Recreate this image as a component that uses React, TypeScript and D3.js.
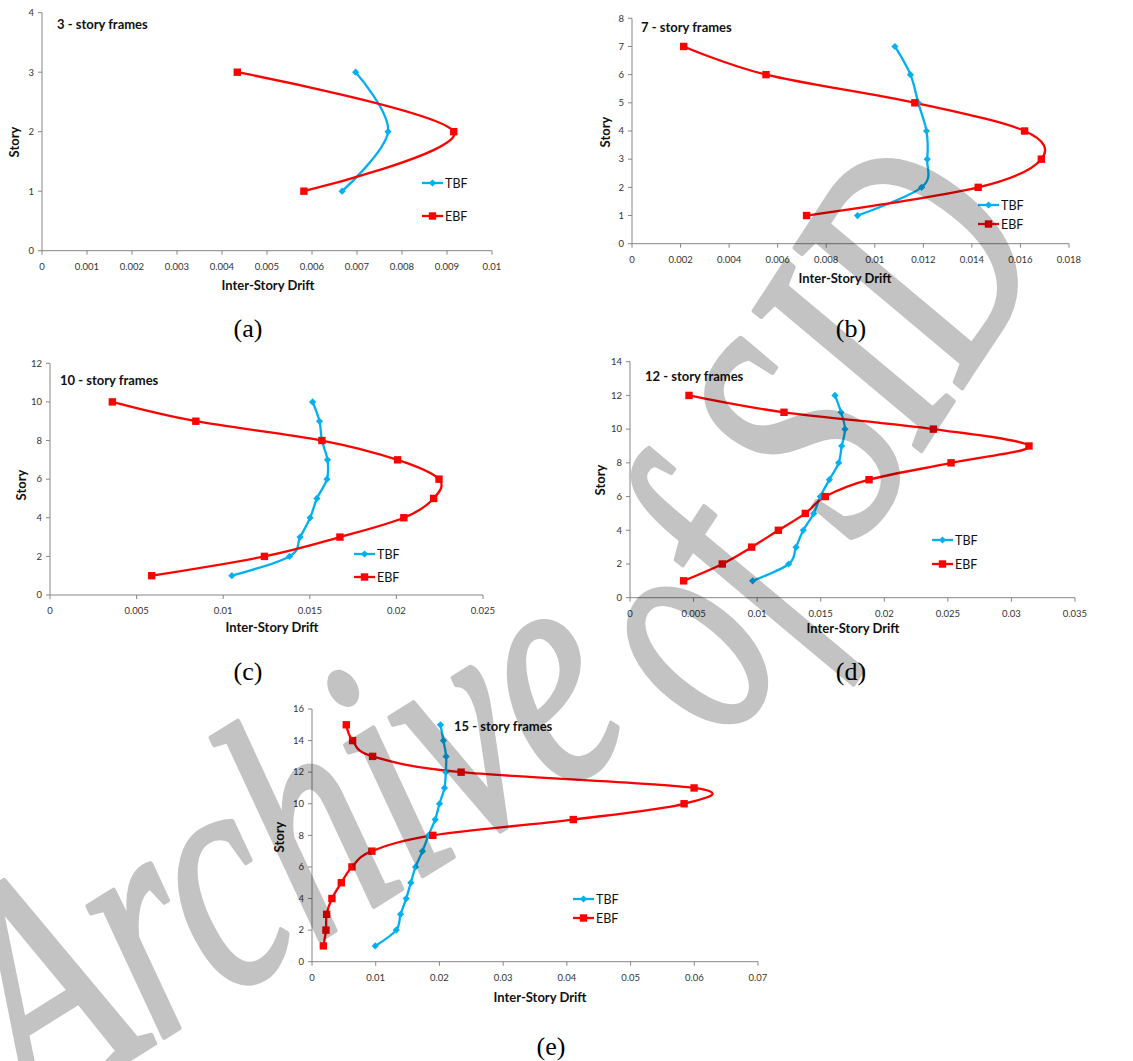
import React from "react";
import * as d3 from "d3";

// ---------- Data ----------
// (a) 3-story frames
const stories3 = [1, 2, 3];
const tbf3 = [0.00667, 0.00769, 0.00697];
const ebf3 = [0.00582, 0.00915, 0.00434];
const xTicks3 = [0, 0.001, 0.002, 0.003, 0.004, 0.005, 0.006, 0.007, 0.008, 0.009, 0.01];
const yTicks3 = [0, 1, 2, 3, 4];

// (b) 7-story frames
const stories7 = [1, 2, 3, 4, 5, 6, 7];
const tbf7 = [0.00929, 0.01193, 0.01216, 0.01213, 0.01179, 0.01147, 0.01083];
const ebf7 = [0.00719, 0.01426, 0.01686, 0.01617, 0.01165, 0.00552, 0.00213];
const xTicks7 = [0, 0.002, 0.004, 0.006, 0.008, 0.01, 0.012, 0.014, 0.016, 0.018];
const yTicks7 = [0, 1, 2, 3, 4, 5, 6, 7, 8];

// (c) 10-story frames
const stories10 = [1, 2, 3, 4, 5, 6, 7, 8, 9, 10];
const tbf10 = [0.0105, 0.01383, 0.01444, 0.01502, 0.01541, 0.01599, 0.01602, 0.0157, 0.01556, 0.01516];
const ebf10 = [0.00587, 0.01238, 0.01674, 0.02043, 0.02215, 0.02246, 0.02007, 0.0157, 0.00842, 0.0036];
const xTicks10 = [0, 0.005, 0.01, 0.015, 0.02, 0.025];
const yTicks10 = [0, 2, 4, 6, 8, 10, 12];

// (d) 12-story frames
const stories12 = [1, 2, 3, 4, 5, 6, 7, 8, 9, 10, 11, 12];
const tbf12 = [0.00965, 0.01248, 0.01306, 0.01363, 0.01445, 0.01497, 0.01568, 0.01641, 0.01665, 0.01691, 0.0166, 0.01612];
const ebf12 = [0.00422, 0.00726, 0.00957, 0.01167, 0.01379, 0.01536, 0.0188, 0.02525, 0.03138, 0.02386, 0.01211, 0.00464];
const xTicks12 = [0, 0.005, 0.01, 0.015, 0.02, 0.025, 0.03, 0.035];
const yTicks12 = [0, 2, 4, 6, 8, 10, 12, 14];

// (e) 15-story frames
const stories15 = [1, 2, 3, 4, 5, 6, 7, 8, 9, 10, 11, 12, 13, 14, 15];
const tbf15 = [0.00993, 0.01322, 0.0139, 0.01478, 0.01551, 0.01625, 0.01734, 0.01828, 0.01933, 0.02001, 0.02079, 0.021, 0.02105, 0.02063, 0.02016];
const ebf15 = [0.00178, 0.00219, 0.0023, 0.00313, 0.0046, 0.00627, 0.0094, 0.01896, 0.04101, 0.0584, 0.05997, 0.0234, 0.00951, 0.00637, 0.00538];
const xTicks15 = [0, 0.01, 0.02, 0.03, 0.04, 0.05, 0.06, 0.07];
const yTicks15 = [0, 2, 4, 6, 8, 10, 12, 14, 16];

const seriesNames = ["TBF", "EBF"];
const xAxisTitle = "Inter-Story Drift";
const yAxisTitle = "Story";
const watermarkWords = ["Archive", "of SID"];

// ---------- Layout ----------
const TBF_COLOR = "#00b0f0";
const EBF_COLOR = "#ff0000";
const AXIS_COLOR = "#868686";
const FONT = "Lato, 'Open Sans', sans-serif";

type PanelCfg = {
  title: string;
  caption: string;
  stories: number[];
  tbf: number[];
  ebf: number[];
  xTicks: number[];
  yTicks: number[];
  l: number; r: number; t: number; b: number;
  titleX: number; titleY: number;
  legX: number; legY1: number; legY2: number;
  xLabX: number; xLabY: number;
  yLabX: number; yLabY: number;
  capX: number; capY: number;
};

const panels: PanelCfg[] = [
  {
    title: "3 - story frames", caption: "(a)", stories: stories3, tbf: tbf3, ebf: ebf3,
    xTicks: xTicks3, yTicks: yTicks3, l: 42, r: 492, t: 12.7, b: 250.7,
    titleX: 57, titleY: 29, legX: 422, legY1: 183, legY2: 216,
    xLabX: 268, xLabY: 290, yLabX: 19, yLabY: 142, capX: 248, capY: 337,
  },
  {
    title: "7 - story frames", caption: "(b)", stories: stories7, tbf: tbf7, ebf: ebf7,
    xTicks: xTicks7, yTicks: yTicks7, l: 632, r: 1069, t: 18.3, b: 243.7,
    titleX: 641, titleY: 32, legX: 978, legY1: 205, legY2: 224,
    xLabX: 845, xLabY: 283, yLabX: 610, yLabY: 132, capX: 851, capY: 337,
  },
  {
    title: "10 - story frames", caption: "(c)", stories: stories10, tbf: tbf10, ebf: ebf10,
    xTicks: xTicks10, yTicks: yTicks10, l: 50, r: 483, t: 363.3, b: 595,
    titleX: 60, titleY: 385, legX: 354, legY1: 554, legY2: 577,
    xLabX: 272, xLabY: 632, yLabX: 26, yLabY: 485, capX: 248, capY: 680,
  },
  {
    title: "12 - story frames", caption: "(d)", stories: stories12, tbf: tbf12, ebf: ebf12,
    xTicks: xTicks12, yTicks: yTicks12, l: 630, r: 1075, t: 361.7, b: 597.7,
    titleX: 645, titleY: 381, legX: 932, legY1: 540, legY2: 564,
    xLabX: 853, xLabY: 633, yLabX: 605, yLabY: 480, capX: 851, capY: 680,
  },
  {
    title: "15 - story frames", caption: "(e)", stories: stories15, tbf: tbf15, ebf: ebf15,
    xTicks: xTicks15, yTicks: yTicks15, l: 312, r: 758, t: 709, b: 961.7,
    titleX: 454, titleY: 731, legX: 573, legY1: 899, legY2: 918,
    xLabX: 540, xLabY: 1002, yLabX: 284, yLabY: 837, capX: 551, capY: 1055,
  },
];

const fmt = (v: number) => String(+v.toFixed(6));

const diamond = (cx: number, cy: number, s: number) =>
  `M${cx},${cy - s}L${cx + s},${cy}L${cx},${cy + s}L${cx - s},${cy}Z`;

function Panel({ cfg }: { cfg: PanelCfg }) {
  const xMax = cfg.xTicks[cfg.xTicks.length - 1];
  const yMax = cfg.yTicks[cfg.yTicks.length - 1];
  const x = d3.scaleLinear().domain([0, xMax]).range([cfg.l, cfg.r]);
  const y = d3.scaleLinear().domain([0, yMax]).range([cfg.b, cfg.t]);
  const mkLine = (vals: number[]) =>
    d3
      .line<number>()
      .x((d) => x(d))
      .y((_, i) => y(cfg.stories[i]))
      .curve(d3.curveCatmullRom.alpha(0))(vals) || "";

  return (
    <g>
      <line x1={cfg.l} x2={cfg.l} y1={cfg.t} y2={cfg.b} stroke={AXIS_COLOR} strokeWidth={1} />
      <line x1={cfg.l} x2={cfg.r} y1={cfg.b} y2={cfg.b} stroke={AXIS_COLOR} strokeWidth={1} />
      {cfg.yTicks.map((t) => (
        <g key={"y" + t}>
          <line x1={cfg.l - 4} x2={cfg.l} y1={y(t)} y2={y(t)} stroke={AXIS_COLOR} />
          <text x={cfg.l - 8} y={y(t) + 3.3} textAnchor="end" fontSize={9.5} fontFamily={FONT} fill="#333">
            {fmt(t)}
          </text>
        </g>
      ))}
      {cfg.xTicks.map((t) => (
        <g key={"x" + t}>
          <line x1={x(t)} x2={x(t)} y1={cfg.b} y2={cfg.b + 4} stroke={AXIS_COLOR} />
          <text x={x(t)} y={cfg.b + 19} textAnchor="middle" fontSize={9.5} fontFamily={FONT} fill="#333">
            {fmt(t)}
          </text>
        </g>
      ))}
      <text x={cfg.xLabX} y={cfg.xLabY} textAnchor="middle" fontSize={13} fontWeight="bold" fontFamily={FONT} fill="#111">
        {xAxisTitle}
      </text>
      <text
        transform={`translate(${cfg.yLabX},${cfg.yLabY}) rotate(-90)`}
        textAnchor="middle"
        fontSize={13}
        fontWeight="bold"
        fontFamily={FONT}
        fill="#111"
      >
        {yAxisTitle}
      </text>
      <text x={cfg.titleX} y={cfg.titleY} fontSize={13} fontWeight="bold" fontFamily={FONT} fill="#111">
        {cfg.title}
      </text>
      <path d={mkLine(cfg.tbf)} fill="none" stroke={TBF_COLOR} strokeWidth={2.3} />
      <path d={mkLine(cfg.ebf)} fill="none" stroke={EBF_COLOR} strokeWidth={2.3} />
      {cfg.tbf.map((v, i) => (
        <path key={"t" + i} d={diamond(x(v), y(cfg.stories[i]), 3.6)} fill={TBF_COLOR} />
      ))}
      {cfg.ebf.map((v, i) => (
        <rect key={"e" + i} x={x(v) - 3.7} y={y(cfg.stories[i]) - 3.7} width={7.4} height={7.4} fill={EBF_COLOR} />
      ))}
      {[cfg.legY1, cfg.legY2].map((ly, k) => (
        <g key={"lg" + k}>
          <line x1={cfg.legX} x2={cfg.legX + 21} y1={ly} y2={ly} stroke={k === 0 ? TBF_COLOR : EBF_COLOR} strokeWidth={2.3} />
          {k === 0 ? (
            <path d={diamond(cfg.legX + 10.5, ly, 3.6)} fill={TBF_COLOR} />
          ) : (
            <rect x={cfg.legX + 10.5 - 3.7} y={ly - 3.7} width={7.4} height={7.4} fill={EBF_COLOR} />
          )}
          <text x={cfg.legX + 23} y={ly + 4.5} fontSize={12.5} fontFamily={FONT} fill="#111">
            {seriesNames[k]}
          </text>
        </g>
      ))}
      <text x={cfg.capX} y={cfg.capY} textAnchor="middle" fontSize={26} fontFamily="'Liberation Serif', 'Times New Roman', serif" fill="#000">
        {cfg.caption}
      </text>
    </g>
  );
}

const wmStyle = {
  fontSize: 330,
  fontStyle: "italic" as const,
  fontFamily: "'Liberation Serif', 'Times New Roman', serif",
};

export default function App() {
  return (
    <svg width={1133} height={1061} style={{ position: "absolute", left: 0, top: 0, background: "#fff" }}>
      <rect width={1133} height={1061} fill="#fff" />
      {panels.map((p, i) => (
        <Panel key={i} cfg={p} />
      ))}
      <g opacity={0.23} fill="#000" stroke="#000" strokeWidth={5} strokeLinejoin="round">
        <text
          transform="translate(35,1118) rotate(-32)"
          x={0}
          y={0}
          textLength={715}
          lengthAdjust="spacingAndGlyphs"
          style={wmStyle}
        >
          {watermarkWords[0]}
        </text>
        <text
          transform="translate(730,745) rotate(-57)"
          x={0}
          y={0}
          textLength={594}
          lengthAdjust="spacingAndGlyphs"
          style={wmStyle}
        >
          {" " + watermarkWords[1]}
        </text>
      </g>
    </svg>
  );
}
